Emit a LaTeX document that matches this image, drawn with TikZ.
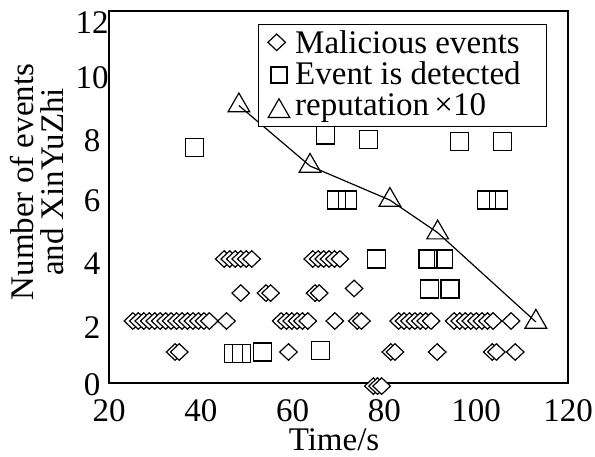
\documentclass[tikz,border=0pt]{standalone}
\usepackage{fontspec}
\setmainfont{Liberation Serif}
\usetikzlibrary{shapes.geometric}
\tikzset{mal/.style = {draw, diamond, fill=white, inner sep=0pt,
                       minimum width=18pt, minimum height=17pt, line width=1.2pt},
         det/.style = {draw, rectangle, inner sep=0pt, minimum size=18pt, line width=1.2pt},
         rep/.style = {draw, regular polygon, regular polygon sides=3, inner sep=0pt,
                       minimum size=25pt, line width=1.2pt},
         lbl/.style = {font=\fontsize{33}{30}\selectfont, inner sep=0pt},
         num/.style = {lbl, text height=22.5pt, text depth=0pt}}

\begin{document}
\begin{tikzpicture}[x=1pt, y=1pt]
      \useasboundingbox (0, 0) rectangle (595, 456);

      \begin{scope}[x=4.59pt, y=31pt, xshift=17.2pt, yshift=73pt]
        \draw [line width=1.6pt] (20, 0) rectangle (120, 12);

        % malicious events
        \foreach \s/\n/\d/\y [count=\c] in {25.2/14/1.19/2, 57.5/5/1.16/2, 83.1/6/1.18/2,
                                            95.2/7/1.21/2, 45.1/5/1.2/4, 64.4/5/1.18/4}
          \foreach \i in {0,...,\n}
            \node [mal] (stack\c-\i) at ({\s+\d*\i}, \y) {};
        \foreach \x/\y [count=\k] in {45.6/2, 69.2/2, 74.1/2, 75.0/2, 107.6/2,
                                      48.7/2.9, 54.2/2.9, 55.2/2.9, 64.9/2.9, 65.8/2.9, 73.4/3.05,
                                      34.4/1, 35.3/1, 59.1/1, 81.4/1, 82.3/1, 91.5/1,
                                      103.5/1, 104.4/1, 108.5/1,
                                      77.6/-0.1, 78.5/-0.1, 79.4/-0.1}
          \node [mal] (mal\k) at (\x, \y) {};

        % detected events
        \foreach \x/\y [count=\k] in {38.7/7.6, 67.1/8.0, 76.6/7.85, 96.4/7.8, 105.8/7.8,
                                      69.5/5.9, 71.9/5.9, 102.3/5.9, 104.9/5.9,
                                      78.2/4.0, 89.5/4.0, 92.8/4.0, 89.9/3.03, 94.3/3.03,
                                      47.1/0.95, 48.9/0.95, 53.5/1.0, 66.1/1.05}
          \node [det] (det\k) at (\x, \y) {};

        % reputation
        \foreach \x/\y [count=\k] in {48.3/8.95, 63.8/7.0, 81.2/5.9, 91.6/4.85, 113/1.97}
          \node [rep] (rep\k) at (\x, \y) {};
        \draw [line width=1.2pt] (rep1.center) -- (rep2.center) -- (rep3.center)
              -- (rep4.center) -- (rep5.center);
      \end{scope}

      % ticks and axis titles
      \foreach \v/\yy in {0/72, 2/129, 4/193, 6/256, 8/316, 10/379, 12/433.5}
        \node [num] (ytick\v) at (92, \yy) {\v};
      \foreach \v in {20, 40, ..., 120}
        \node [num, anchor=base] (xtick\v) at ({17.2+4.59*\v}, 34.5) {\v};
      \node [lbl, anchor=base, text height=22.5pt] (xtitle) at (334, 6) {Time/s};
      \node [lbl, rotate=90, align=center] (ytitle) at (37, 274) {Number of events\\and XinYuZhi};

      % legend
      \draw [line width=1.5pt, fill=white] (258.3, 329.3) rectangle (546.7, 431.7);
      \node [mal] (keymal) at (276.7, 413.7) {};
      \node [det, minimum size=16pt] (keydet) at (279, 381) {};
      \node [rep] (keyrep) at (279, 344.7) {};
      \node [lbl, anchor=base west] (txtmal) at (295, 402.7) {Malicious events};
      \node [lbl, anchor=base west] (txtdet) at (295, 371) {Event is detected};
      \node [lbl, anchor=base west] (txtrep) at (295, 340) {reputation\,×10};
    \end{tikzpicture}
\end{document}
